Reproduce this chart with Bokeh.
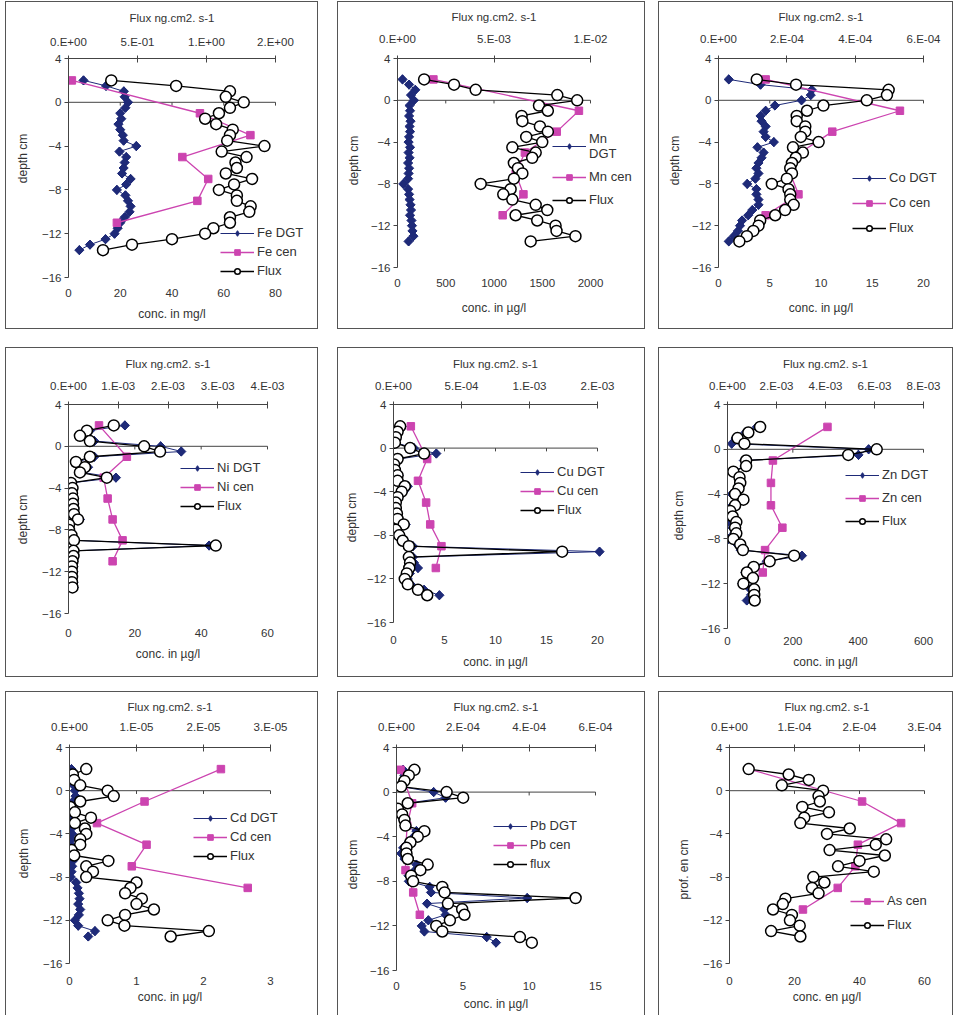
from bokeh.plotting import figure
from bokeh.models import (Range1d, LinearAxis, FixedTicker, Legend, LegendItem, Spacer,
                          Title, InlineStyleSheet)
from bokeh.layouts import column, row
from bokeh.embed import file_html
from bokeh.resources import INLINE

# ---------------- data ----------------
depth = [2, 1.5, 1, 0.5, 0, -0.5, -1, -1.5, -2, -2.5, -3, -3.5, -4, -4.5, -5, -5.5,
         -6, -6.5, -7, -7.5, -8, -8.5, -9, -9.5, -10, -10.5, -11, -11.5, -12, -12.5, -13, -13.5]
depth_cen = [2, -1, -3, -5, -7, -9, -11]
depth_ticks = [-16, -12, -8, -4, 0, 4]

fe_dgt = [5.8, 14.5, 21.4, 21.7, 23.0, 22.0, 20.0, 20.4, 19.3, 20.0, 21.0, 21.3, 26.2, 19.7, 22.3, 21.7,
          21.3, 20.7, 24.0, 22.3, 18.7, 22.0, 23.0, 24.0, 23.6, 21.7, 20.0, 19.0, 17.8, 14.3, 8.3, 4.2]
fe_cen = [1.3, 50.8, 70.3, 44.0, 54.0, 49.8, 18.7]
fe_flux = [0.31, 0.78, 1.17, 1.14, 1.27, 1.17, 1.09, 0.99, 1.07, 1.19, 1.17, 1.15, 1.42, 1.11, 1.29, 1.21,
           1.22, 1.14, 1.33, 1.20, 1.09, 1.22, 1.22, 1.32, 1.31, 1.17, 1.17, 1.05, 0.99, 0.75, 0.46, 0.25]
fe_conc_ticks = [0, 20, 40, 60, 80]
fe_flux_ticks = [0, 0.5, 1.0, 1.5]
fe_flux_labels = ["0.E+00", "5.E-01", "1.E+00", "2.E+00"]

mn_dgt = [52, 120, 185, 140, 170, 125, 130, 120, 135, 125, 130, 120, 115, 130, 115, 125,
          110, 120, 115, 110, 60, 110, 120, 125, 135, 140, 130, 145, 150, 155, 165, 115]
mn_cen = [372, 1880, 1650, 1320, 1225, 1305, 1090]
mn_flux = [1.38e-3, 2.93e-3, 4.05e-3, 8.28e-3, 9.31e-3, 7.33e-3, 7.79e-3, 6.43e-3, 6.47e-3, 7.38e-3,
           7.79e-3, 6.67e-3, 7.50e-3, 5.95e-3, 7.16e-3, 6.98e-3, 6.03e-3, 6.24e-3, 6.47e-3, 6.03e-3,
           4.31e-3, 5.86e-3, 5.48e-3, 5.95e-3, 7.16e-3, 7.76e-3, 6.12e-3, 7.24e-3, 8.19e-3, 8.24e-3,
           9.22e-3, 6.90e-3]
mn_conc_ticks = [0, 500, 1000, 1500, 2000]
mn_flux_ticks = [0, 0.005, 0.01]
mn_flux_labels = ["0.E+00", "5.E-03", "1.E-02"]

co_dgt = [1.0, 4.1, 9.1, 9.0, 8.1, 5.5, 4.6, 4.1, 4.2, 4.6, 4.4, 4.6, 5.4, 3.8, 4.4, 4.2,
          3.9, 3.7, 3.9, 3.6, 2.8, 3.7, 3.7, 3.9, 3.9, 3.3, 2.9, 2.3, 2.1, 1.9, 1.5, 1.0]
co_cen = [4.6, 17.7, 11.1, 8.0, 7.0, 7.8, 4.6]
co_flux = [1.12e-4, 2.27e-4, 4.98e-4, 4.93e-4, 4.34e-4, 3.07e-4, 2.59e-4, 2.29e-4, 2.29e-4, 2.54e-4,
           2.54e-4, 2.41e-4, 2.93e-4, 2.18e-4, 2.47e-4, 2.26e-4, 2.15e-4, 2.10e-4, 2.15e-4, 2.00e-4,
           1.56e-4, 2.05e-4, 2.10e-4, 2.10e-4, 2.20e-4, 1.95e-4, 1.66e-4, 1.22e-4, 1.17e-4, 1.02e-4,
           8.3e-5, 6.1e-5]
co_conc_ticks = [0, 5, 10, 15, 20]
co_flux_ticks = [0, 2e-4, 4e-4, 6e-4]
co_flux_labels = ["0.E+00", "2.E-04", "4.E-04", "6.E-04"]

ni_dgt = [17, 6.5, 4.2, 7.8, 27.8, 34, 7.8, 2.6, 5.9, 4.2, 14.3, 0.8, 1.4, 1.2, 1.6, 1.6,
          1.8, 2.0, 3.5, 0.3, 0.3, 1.1, 2.0, 42.4, 1.8, 1.8, 1.5, 1.4, 1.4, 1.4, 1.5, 1.6]
ni_cen = [9.2, 17.6, 10.6, 11.8, 13.3, 16.3, 13.3]
ni_flux = [9.1e-4, 3.7e-4, 2.3e-4, 4.3e-4, 1.52e-3, 1.84e-3, 4.3e-4, 1.5e-4, 3.3e-4, 2.3e-4,
           7.7e-4, 5e-5, 8e-5, 7e-5, 9e-5, 9e-5, 1.0e-4, 1.1e-4, 1.9e-4, 1e-5,
           1e-5, 6e-5, 1.1e-4, 2.96e-3, 1.0e-4, 1.0e-4, 8e-5, 7e-5, 7e-5, 7e-5, 7e-5, 8e-5]
ni_conc_ticks = [0, 20, 40, 60]
ni_flux_ticks = [0, 1e-3, 2e-3, 3e-3, 4e-3]
ni_flux_labels = ["0.E+00", "1.E-03", "2.E-03", "3.E-03", "4.E-03"]

cu_dgt = [0.8, 0.5, 0.3, 0.2, 2.0, 4.2, 0.5, 0.1, 0.2, 0.5, 0.5, 1.4, 1.0, 0.5, 0.3, 0.3,
          0.4, 0.5, 1.2, 0.3, 0.7, 1.1, 1.9, 20.2, 1.9, 2.0, 2.4, 1.6, 1.4, 1.7, 3.0, 4.5]
cu_cen = [1.7, 3.3, 2.4, 3.2, 3.6, 4.7, 4.15]
cu_flux = [4.9e-5, 3.0e-5, 1.7e-5, 1.0e-5, 1.22e-4, 2.25e-4, 3.0e-5, 4e-6, 1.0e-5, 3.0e-5,
           3.0e-5, 8.3e-5, 6.0e-5, 3.0e-5, 1.7e-5, 1.7e-5, 2.5e-5, 3.0e-5, 7.5e-5, 1.7e-5,
           4.2e-5, 6.8e-5, 1.13e-4, 1.24e-3, 1.13e-4, 1.22e-4, 1.16e-4, 9.8e-5, 8.3e-5, 1.05e-4,
           1.8e-4, 2.48e-4]
cu_conc_ticks = [0, 5, 10, 15, 20]
cu_flux_ticks = [0, 5e-4, 1e-3, 1.5e-3]
cu_flux_labels = ["0.E+00", "5.E-04", "1.E-03", "2.E-03"]

zn_dgt = [90, 55, 25, 13, 432, 401, 50, 52, 15, 35, 40, 30, 13, 40, 15, 3,
          5, 0, 15, 20, 3, 30, 40, 228, 120, 75, 55, 70, 45, 70, 72, 59]
zn_cen = [306, 139, 133, 133, 168, 115, 108]
zn_flux = [1.33e-3, 8.5e-4, 4.1e-4, 6.9e-4, 6.09e-3, 4.93e-3, 7.6e-4, 7.6e-4, 2.4e-4, 4.9e-4,
           5.2e-4, 4.5e-4, 3.1e-4, 6.5e-4, 3.1e-4, 1.1e-4, 2.1e-4, 3.6e-4, 3.1e-4, 3.6e-4,
           2.4e-4, 5.2e-4, 6.3e-4, 2.72e-3, 1.72e-3, 1.07e-3, 7.9e-4, 1.04e-3, 6.5e-4, 1.09e-3,
           1.09e-3, 1.11e-3]
zn_conc_ticks = [0, 200, 400, 600]
zn_flux_ticks = [0, 2e-3, 4e-3, 6e-3, 8e-3]
zn_flux_labels = ["0.E+00", "2.E-03", "4.E-03", "6.E-03", "8.E-03"]

cd_dgt = [0.03, 0.02, 0.04, 0.06, 0.08, 0.09, 0.05, 0.02, 0.03, 0.04, 0.02, 0.03, 0.04, 0.03, 0.02, 0.02,
          0.03, 0.05, 0.04, 0.03, 0.02, 0.10, 0.12, 0.14, 0.15, 0.13, 0.16, 0.14, 0.08, 0.13, 0.38, 0.28]
cd_cen = [2.26, 1.12, 0.41, 1.15, 0.93, 2.66]
cd_flux = [2.5e-6, 5e-7, 7e-7, 1.6e-6, 5.7e-6, 6.6e-6, 1.6e-6, 1e-7, 8e-7, 3.2e-6,
           8e-7, 2.3e-6, 2.5e-6, 1.6e-6, 1.6e-6, 3e-7, 7e-7, 5.8e-6, 2.5e-6, 3.5e-6,
           2.5e-6, 1.00e-5, 9.1e-6, 8.3e-6, 1.08e-5, 1.00e-5, 1.26e-5, 8.3e-6, 5.7e-6, 8.2e-6,
           2.08e-5, 1.51e-5]
cd_conc_ticks = [0, 1, 2, 3]
cd_flux_ticks = [0, 1e-5, 2e-5, 3e-5]
cd_flux_labels = ["0.E+00", "1.E-05", "2.E-05", "3.E-05"]

pb_dgt = [0.5, 0.6, 0.5, 0.3, 2.8, 3.7, 0.8, 0.2, 0.4, 0.5, 0.6, 1.5, 1.3, 0.9, 0.5, 0.35,
          0.6, 1.5, 1.4, 0.9, 0.93, 2.5, 2.6, 9.85, 2.3, 3.6, 3.7, 2.4, 1.9, 2.1, 6.8, 7.5]
pb_cen = [0.3, 1.18, 0.8, 0.7, 0.68, 1.26, 1.76]
pb_flux = [5.4e-5, 3.7e-5, 2.4e-5, 1.4e-5, 1.51e-4, 2.01e-4, 3.4e-5, 4e-6, 1.7e-5, 2.4e-5,
           2.7e-5, 8.4e-5, 6.4e-5, 4.2e-5, 3.0e-5, 3.0e-5, 3.4e-5, 9.4e-5, 7.2e-5, 4.4e-5,
           5.0e-5, 1.38e-4, 1.45e-4, 5.4e-4, 1.55e-4, 1.98e-4, 2.05e-4, 1.61e-4, 1.20e-4, 1.38e-4,
           3.72e-4, 4.08e-4]
pb_conc_ticks = [0, 5, 10, 15]
pb_flux_ticks = [0, 2e-4, 4e-4, 6e-4]
pb_flux_labels = ["0.E+00", "2.E-04", "4.E-04", "6.E-04"]

as_cen = [6.0, 40.8, 52.8, 39.5, 38.7, 33.3, 22.6]
as_flux = [2.95e-5, 9.1e-5, 1.22e-4, 8.05e-5, 1.44e-4, 1.37e-4, 1.39e-4, 1.12e-4, 1.53e-4, 1.15e-4,
           1.09e-4, 1.85e-4, 1.50e-4, 2.41e-4, 2.25e-4, 1.54e-4, 2.39e-4, 2.00e-4, 1.67e-4, 2.22e-4,
           1.29e-4, 1.46e-4, 1.27e-4, 1.37e-4, 8.6e-5, 8.2e-5, 6.7e-5, 9.6e-5, 9.3e-5, 1.08e-4,
           6.4e-5, 1.09e-4]
as_conc_ticks = [0, 20, 40, 60]
as_flux_ticks = [0, 1e-4, 2e-4, 3e-4]
as_flux_labels = ["0.E+00", "1.E-04", "2.E-04", "3.E-04"]

# ---------------- styles ----------------
FONT = "Liberation Sans"
TXT = "#333333"
AX = "#444444"
DGT_C = "#1E2A78"
CEN_C = "#CC44B0"
TICKFS = 11.5
TOPFS = 11.5
BOTFS = 12.0
YFS = 12.0
LEGFS = "13px"
BOX_CSS = InlineStyleSheet(css=":host { outline: 1px solid #555555; }")

# Arial advance widths (per 1000 em) used to place the axis titles
ARIAL_W = {" ": 278, ".": 278, "-": 333, "/": 278, "F": 611, "l": 222, "u": 556, "x": 500,
           "n": 556, "g": 556, "c": 500, "m": 833, "s": 500, "o": 556, "i": 222, "e": 556,
           "µ": 576, "2": 556, "1": 556, "d": 556, "p": 556, "t": 278, "h": 556, "r": 333,
           "f": 278}


def text_width(s, px):
    return sum(ARIAL_W.get(ch, 556) for ch in s) * px / 1000.0


def px(v):
    return "%gpx" % v


def make_panel(labels, dgt, cen, flux, conc_ticks, flux_ticks, flux_labels,
               conc_title, depth_title, g):
    FW = g["w"] - g["l"] - 3          # frame width (extended to make room for the legend)
    fw = g["fw"]                      # width actually covered by the axes
    k = FW / fw
    FH = g["h"] - g["t"] - g["b"]     # frame height (shared by the row)
    y0 = -16 - g["ext"] * 20.0 / (FH - g["ext"])
    p = figure(width=g["w"], height=g["h"],
               x_range=Range1d(conc_ticks[0], conc_ticks[-1] * k), y_range=Range1d(y0, 4),
               output_backend="svg", toolbar_location=None,
               min_border_left=g["l"], min_border_right=3,
               min_border_top=g["t"], min_border_bottom=g["b"],
               outline_line_color=None, background_fill_color="white",
               border_fill_color="white")
    p.styles = {"outline": "1px solid #555555"}
    p.stylesheets = [BOX_CSS]
    p.grid.visible = False
    p.extra_x_ranges = {"flux": Range1d(flux_ticks[0], flux_ticks[-1] * k)}

    # bottom axis: labels only
    xa = p.xaxis[0]
    xa.ticker = FixedTicker(ticks=conc_ticks)
    xa.bounds = (conc_ticks[0], conc_ticks[-1])
    xa.axis_line_color = None
    xa.major_tick_line_color = None
    xa.minor_tick_line_color = None
    xa.major_tick_in = 0
    xa.major_tick_out = 0
    xa.major_label_standoff = g["sb"]

    # left axis
    ya = p.yaxis[0]
    ya.ticker = FixedTicker(ticks=depth_ticks)
    ya.bounds = (-16, 4)
    ya.axis_line_color = AX
    ya.major_tick_line_color = AX
    ya.minor_tick_line_color = None
    ya.major_tick_in = 0
    ya.major_tick_out = 4
    ya.major_label_standoff = 3

    # top flux axis
    ta = LinearAxis(x_range_name="flux", ticker=FixedTicker(ticks=flux_ticks),
                    bounds=(flux_ticks[0], flux_ticks[-1]),
                    major_label_overrides={t: s for t, s in zip(flux_ticks, flux_labels)})
    ta.axis_line_color = AX
    ta.major_tick_line_color = AX
    ta.minor_tick_line_color = None
    ta.major_tick_in = 4
    ta.major_tick_out = 3
    ta.major_label_standoff = g["tsb"]
    p.add_layout(ta, "above")

    for ax in (xa, ya, ta):
        ax.major_label_text_font = FONT
        ax.major_label_text_font_size = px(TICKFS)
        ax.major_label_text_color = TXT

    def title(text, fs, offset, standoff):
        return Title(text=text, align="left", vertical_align="middle", offset=offset,
                     standoff=standoff, text_font=FONT, text_font_size=px(fs),
                     text_font_style="normal", text_color=TXT)

    # axis titles, centred over the axes' own span
    top_t = "Flux ng.cm2. s-1"
    p.add_layout(title(top_t, TOPFS, fw / 2 - text_width(top_t, TOPFS) / 2, g["st"]), "above")
    p.add_layout(title(conc_title, BOTFS, fw / 2 - text_width(conc_title, BOTFS) / 2, g["stb"]),
                 "below")
    p.add_layout(title(depth_title, YFS, g["yc"] - text_width(depth_title, YFS) / 2, g["sy"]),
                 "left")

    # horizontal axis line crossing at depth 0, with its ticks
    p.segment(x0=[conc_ticks[0]], y0=[0], x1=[conc_ticks[-1]], y1=[0], line_color=AX, line_width=1)
    p.segment(x0=conc_ticks, y0=[0] * len(conc_ticks), x1=conc_ticks,
              y1=[-0.3] * len(conc_ticks), line_color=AX, line_width=1)

    items = []
    if dgt is not None:
        l1 = p.line(dgt, depth, line_color=DGT_C, line_width=1)
        d1 = p.scatter(dgt, depth, marker="diamond", size=9, fill_color=DGT_C, line_color=DGT_C)
        p.scatter(dgt, depth, marker="square", angle=0.7854, size=6.5,
                  fill_color=DGT_C, line_color=DGT_C)
        items.append(LegendItem(label=labels[0], renderers=[l1, d1]))
    dc = depth_cen[:len(cen)]
    l2 = p.line(cen, dc, line_color=CEN_C, line_width=1.3)
    s2 = p.scatter(cen, dc, marker="square", size=7.5, fill_color=CEN_C, line_color=CEN_C)
    items.append(LegendItem(label=labels[1], renderers=[l2, s2]))
    l3 = p.line(flux, depth, line_color="black", line_width=1.3, x_range_name="flux")
    s3 = p.scatter(flux, depth, marker="circle", size=11, fill_color="white",
                   line_color="black", line_width=1.5, x_range_name="flux")
    items.append(LegendItem(label=labels[2], renderers=[l3, s3]))

    leg = Legend(items=items, location=(g["lx"], g["ly"]), glyph_width=34, glyph_height=14,
                 label_height=14, spacing=g["lsp"], padding=0, margin=0,
                 background_fill_alpha=0, border_line_color=None, label_standoff=3,
                 label_text_font=FONT, label_text_font_size=LEGFS, label_text_color=TXT)
    p.add_layout(leg)
    return p


def G(w, h, l, t, b, fw, ext, lx, ly, lsp, sb, stb, yc, sy, st=15, tsb=8):
    return dict(w=w, h=h, l=l, t=t, b=b, fw=fw, ext=ext, lx=lx, ly=ly, lsp=lsp,
                sb=sb, stb=stb, yc=yc, sy=sy, st=st, tsb=tsb)


p1 = make_panel(["Fe DGT", "Fe cen", "Flux"], fe_dgt, fe_cen, fe_flux, fe_conc_ticks, fe_flux_ticks,
                fe_flux_labels, "conc. in mg/l", "depth cm",
                G(311, 326, 62, 56, 51, 207, 0, 152, -1, 4, 11, 13, 119, 15))
p2 = make_panel(["Mn\nDGT", "Mn cen", "Flux"], mn_dgt, mn_cen, mn_flux, mn_conc_ticks, mn_flux_ticks,
                mn_flux_labels, "conc. in µg/l", "depth cm",
                G(306, 326, 59, 56, 51, 193, 10, 155, 70, 8, 1, 20, 117, 12, st=11, tsb=11))
p3 = make_panel(["Co DGT", "Co cen", "Flux"], co_dgt, co_cen, co_flux, co_conc_ticks, co_flux_ticks,
                co_flux_labels, "conc. in µg/l", "depth cm",
                G(293, 326, 59, 56, 51, 205, 10, 134, 42, 10, 1, 20, 117, 12, st=11, tsb=11))
p4 = make_panel(["Ni DGT", "Ni cen", "Flux"], ni_dgt, ni_cen, ni_flux, ni_conc_ticks, ni_flux_ticks,
                ni_flux_labels, "conc. in µg/l", "depth cm",
                G(311, 328, 62, 56, 48, 199, 15, 112, 115, 4, 0, 12, 109, 15, st=11, tsb=10))
p5 = make_panel(["Cu DGT", "Cu cen", "Flux"], cu_dgt, cu_cen, cu_flux, cu_conc_ticks, cu_flux_ticks,
                cu_flux_labels, "conc. in µg/l", "depth cm",
                G(306, 328, 55, 56, 48, 204, 6, 127, 111, 4, 7, 14, 111, 8, st=11, tsb=10))
p6 = make_panel(["Zn DGT", "Zn cen", "Flux"], zn_dgt, zn_cen, zn_flux, zn_conc_ticks, zn_flux_ticks,
                zn_flux_labels, "conc. in µg/l", "depth cm",
                G(293, 328, 68, 56, 48, 196, 0, 118, 100, 8, 8, 13, 113, 21, st=11, tsb=10))
p7 = make_panel(["Cd DGT", "Cd cen", "Flux"], cd_dgt, cd_cen, cd_flux, cd_conc_ticks, cd_flux_ticks,
                cd_flux_labels, "conc. in µg/l", "depth cm",
                G(311, 323, 63, 55, 45, 201, 7, 124, 107, 4, 6, 2, 117, 16, st=8, tsb=12))
p8 = make_panel(["Pb DGT", "Pb cen", "flux"], pb_dgt, pb_cen, pb_flux, pb_conc_ticks, pb_flux_ticks,
                pb_flux_labels, "conc. in µg/l", "depth cm",
                G(306, 323, 58, 55, 45, 199, 0, 97, 99, 4, 11, 6, 106, 11, st=8, tsb=12))
p9 = make_panel([None, "As cen", "Flux"], None, as_cen, as_flux, as_conc_ticks, as_flux_ticks,
                as_flux_labels, "conc. en µg/l", "prof. en cm",
                G(293, 323, 70, 55, 45, 195, 7, 121, 38, 9, 6, 2, 101, 16, st=8, tsb=12))


def panel_row(a, b, c):
    return row(Spacer(width=6), a, Spacer(width=21), b, Spacer(width=15), c, Spacer(width=2))


layout = column(
    Spacer(height=2),
    panel_row(p1, p2, p3),
    Spacer(height=20),
    panel_row(p4, p5, p6),
    Spacer(height=16),
    panel_row(p7, p8, p9),
)

open("out.html", "w").write(file_html(layout, INLINE))
